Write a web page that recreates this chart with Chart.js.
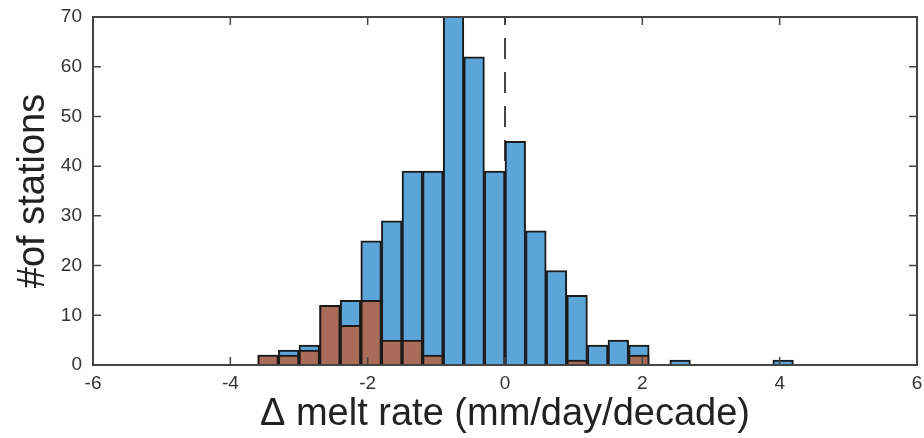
<!DOCTYPE html>
<html>
<head>
<meta charset="utf-8">
<script src="https://cdn.jsdelivr.net/npm/chart.js@4/dist/chart.umd.min.js"></script>
<style>
  html, body { margin: 0; padding: 0; background: #fff; }
  #wrap { width: 924px; height: 438px; position: relative; }
</style>
</head>
<body>
<div id="wrap"><canvas id="c" width="924" height="438"></canvas></div>
<script>
// Histogram bin centres (bin width 0.3 mm/day/decade)
const binCenters = [-3.45, -3.15, -2.85, -2.55, -2.25, -1.95, -1.65, -1.35, -1.05, -0.75,
                    -0.45, -0.15, 0.15, 0.45, 0.75, 1.05, 1.35, 1.65, 1.95, 2.25,
                    2.55, 2.85, 3.15, 3.45, 3.75, 4.05];
// All stations (blue)
const allStations = [2, 3, 4, 12, 13, 25, 29, 39, 39, 72,
                     62, 39, 45, 27, 19, 14, 4, 5, 4, 0,
                     1, 0, 0, 0, 0, 1];
// Subset (brown)
const subsetStations = [2, 2, 3, 12, 8, 13, 5, 5, 2, 0,
                        0, 0, 0, 0, 0, 1, 0, 0, 2, 0,
                        0, 0, 0, 0, 0, 0];
const xTicks = [-6, -4, -2, 0, 2, 4, 6];
const yTicks = [0, 10, 20, 30, 40, 50, 60, 70];
const xTitle = 'Δ melt rate (mm/day/decade)';
const yTitle = '#of stations';

function toPoints(vals) {
  return binCenters.map((x, i) => ({ x: x, y: vals[i] === 0 ? null : vals[i] }));
}

const FONT = '"Liberation Sans", Arial, Helvetica, sans-serif';
const AXIS_COLOR = '#444';

const boxPlugin = {
  id: 'boxPlugin',
  beforeDatasetsDraw(chart) {
    const { ctx, scales: { x, y } } = chart;
    const px = x.getPixelForValue(0);
    ctx.save();
    ctx.strokeStyle = '#444';
    ctx.lineWidth = 2;
    ctx.setLineDash([21, 13]);
    ctx.beginPath();
    ctx.moveTo(px, y.getPixelForValue(0));
    ctx.lineTo(px, y.getPixelForValue(70));
    ctx.stroke();
    ctx.restore();
  },
  afterDatasetsDraw(chart) {
    const { ctx, chartArea: a, scales: { x, y } } = chart;
    const tl = 8;
    ctx.save();
    ctx.strokeStyle = AXIS_COLOR;
    ctx.lineWidth = 1.5;
    ctx.beginPath();
    xTicks.forEach(v => {
      const p = x.getPixelForValue(v);
      ctx.moveTo(p, a.bottom); ctx.lineTo(p, a.bottom - tl);
      ctx.moveTo(p, a.top); ctx.lineTo(p, a.top + tl);
    });
    yTicks.forEach(v => {
      const p = y.getPixelForValue(v);
      ctx.moveTo(a.left, p); ctx.lineTo(a.left + tl, p);
      ctx.moveTo(a.right, p); ctx.lineTo(a.right - tl, p);
    });
    ctx.stroke();
    ctx.lineWidth = 2;
    ctx.strokeRect(a.left, a.top, a.right - a.left, a.bottom - a.top);
    ctx.restore();
  }
};

new Chart(document.getElementById('c'), {
  type: 'bar',
  data: {
    datasets: [
      {
        label: 'subset',
        data: toPoints(subsetStations),
        backgroundColor: '#a96c58',
        borderColor: '#1a1a1a',
        borderWidth: 2,
        grouped: false,
        order: 0
      },
      {
        label: 'all',
        data: toPoints(allStations),
        backgroundColor: '#5ba5d9',
        borderColor: '#1a1a1a',
        borderWidth: 2,
        grouped: false,
        order: 1
      }
    ]
  },
  options: {
    responsive: false,
    animation: false,
    devicePixelRatio: 1,
    layout: { padding: { top: 17, right: 7, left: 0, bottom: 0 } },
    plugins: { legend: { display: false }, tooltip: { enabled: false } },
    datasets: { bar: { categoryPercentage: 1, barPercentage: 1 } },
    scales: {
      x: {
        type: 'linear',
        min: -6, max: 6,
        offset: false,
        afterBuildTicks: s => { s.ticks = xTicks.map(v => ({ value: v })); },
        afterFit: s => { s.height = 73; },
        grid: { display: false, drawTicks: true, tickLength: 7 },
        border: { display: false },
        ticks: { color: '#333', padding: 0, font: { family: FONT, size: 19 } },
        title: { display: true, text: xTitle, color: '#222',
                 font: { family: FONT, size: 38 }, padding: { top: 0, bottom: 1 } }
      },
      y: {
        min: 0, max: 70,
        afterBuildTicks: s => { s.ticks = yTicks.map(v => ({ value: v })); },
        afterFit: s => { s.width = 93; },
        grid: { display: false, drawTicks: true, tickLength: 11 },
        border: { display: false },
        ticks: { color: '#333', padding: 0, font: { family: FONT, size: 19 } },
        title: { display: true, text: yTitle, color: '#222',
                 font: { family: FONT, size: 38 }, padding: { top: 11, bottom: 0 } }
      }
    }
  },
  plugins: [boxPlugin]
});
</script>
</body>
</html>
